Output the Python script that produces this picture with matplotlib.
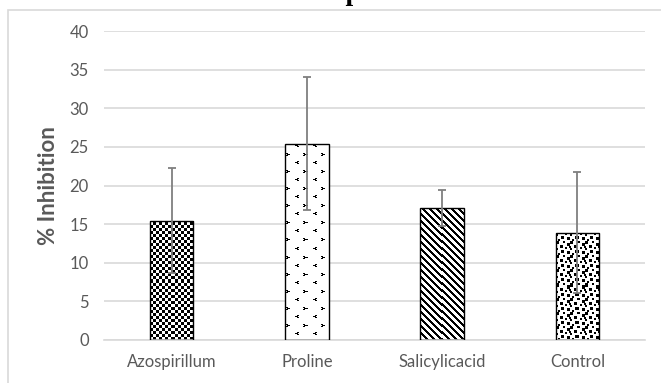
import matplotlib
matplotlib.use("Agg")
import matplotlib.pyplot as plt
import matplotlib.patches as patches
import numpy as np

# % inhibition per treatment, mean and error
treatments = ["Azospirillum", "Proline", "Salicylicacid", "Control"]
inhibition = [15.45, 25.4, 17.05, 13.9]
errors = [6.8, 8.6, 2.35, 7.8]
y_ticks = [0, 5, 10, 15, 20, 25, 30, 35, 40]

TXT = "#595959"
GRID = "#d9d9d9"


def blocks(size, squares):
    # tile of given size with black squares at (row, col, side)
    t = np.zeros(size)
    for r, c, s in squares:
        for dr in range(s):
            for dc in range(s):
                t[(r + dr) % size[0], (c + dc) % size[1]] = 1
    return t


def tile_from_rows(rows):
    return np.array([[1 if ch == "#" else 0 for ch in r] for r in rows], dtype=float)


# pixel tiles used to fill the bars (1 = black)
checker = blocks((6, 6), [(0, 0, 3), (3, 3, 3)])

right_chev = tile_from_rows(["##..", ".###", "##.."])
left_chev = tile_from_rows(["..##", "###.", "..##"])
chevrons = np.zeros((17, 17))
chevrons[1:4, 1:5] = right_chev
chevrons[9:12, 10:14] = left_chev

stripes = np.array([[1.0 if (c - r) % 7 < 3 else 0.0 for c in range(7)] for r in range(7)])

confetti = blocks((14, 14), [
    (0, 0, 3), (0, 7, 2), (2, 11, 3), (4, 4, 3), (6, 9, 2),
    (7, 0, 2), (9, 5, 3), (10, 11, 3), (12, 2, 2), (5, 13, 2),
])

patterns = [checker, chevrons, stripes, confetti]


def fill_pattern(ax, bar, tile):
    x0, y0 = bar.get_x(), bar.get_y()
    w, h = bar.get_width(), bar.get_height()
    (px0, py0), (px1, py1) = ax.transData.transform([(x0, y0), (x0 + w, y0 + h)])
    nx, ny = int(round(px1 - px0)), int(round(py1 - py0))
    reps = (ny // tile.shape[0] + 2, nx // tile.shape[1] + 2)
    img = np.tile(tile, reps)[-ny:, :nx]
    im = ax.imshow(img, cmap="gray_r", vmin=0, vmax=1, origin="upper",
                   extent=(x0, x0 + w, y0, y0 + h), interpolation="nearest",
                   aspect="auto", zorder=2)
    im.set_clip_path(bar)


fig = plt.figure(figsize=(6.61, 3.83), dpi=100)
W, H = 661, 383

# light chart border
fig.patches.append(patches.Rectangle((8 / W, -0.1), 1.2, 0.1 + (H - 10) / H,
                                     transform=fig.transFigure, fill=False,
                                     edgecolor=GRID, linewidth=1.2))

ax = fig.add_axes([104 / W, (H - 340) / H, 541 / W, 309 / H])
x = np.arange(len(treatments))
ax.set_xlim(-0.5, len(treatments) - 0.5)
ax.set_ylim(0, 40)

bars = ax.bar(x, inhibition, width=0.32, facecolor="none", edgecolor="black",
              linewidth=1.0, zorder=3)
for bar, tile in zip(bars, patterns):
    fill_pattern(ax, bar, tile)

ax.errorbar(x, inhibition, yerr=errors, fmt="none", ecolor="#7f7f7f",
            elinewidth=1.3, capsize=3, capthick=1.3, zorder=4)

ax.set_xlim(-0.5, len(treatments) - 0.5)
ax.set_ylim(0, 40)
ax.set_yticks(y_ticks)
ax.yaxis.grid(True, color=GRID, linewidth=1.2)
ax.set_axisbelow(True)
for s in ["top", "right", "left"]:
    ax.spines[s].set_visible(False)
ax.spines["bottom"].set_color(GRID)
ax.spines["bottom"].set_linewidth(1.2)

ax.set_xticks(x)
ax.set_xticklabels(treatments)
ax.tick_params(axis="both", length=0, colors=TXT, labelsize=12)
ax.tick_params(axis="y", pad=11)
ax.tick_params(axis="x", pad=10)
for lbl in ax.get_xticklabels() + ax.get_yticklabels():
    lbl.set_fontfamily("Lato")

ax.set_ylabel("% Inhibition", fontsize=16, fontweight="bold", color=TXT,
              fontfamily="Lato")
ax.yaxis.set_label_coords(-0.084, 0.5)

# chart title, mostly above the canvas
fig.text(339.5 / W, (H - 0.5) / H, "treated plants.", ha="center", va="baseline",
         fontsize=20, fontweight="bold", fontfamily="Liberation Serif")

fig.savefig("out.png", dpi=100)
